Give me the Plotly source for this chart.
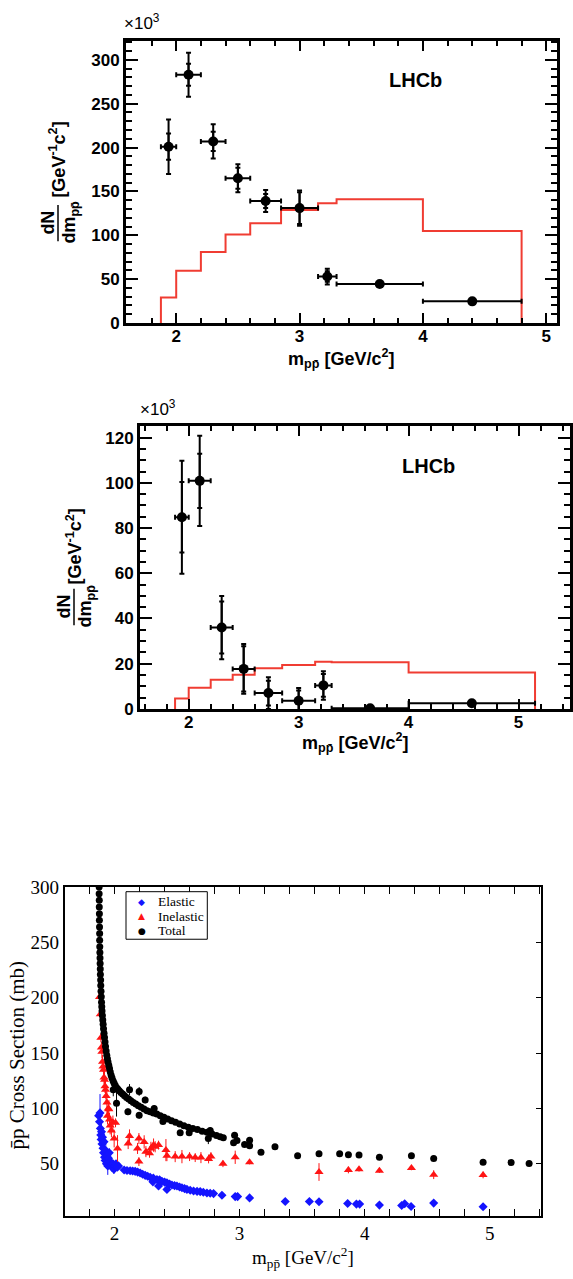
import plotly.graph_objects as go

W, H = 573, 1279
SANS = "Liberation Sans"
SERIF = "Liberation Serif"
PB = "p\u0304"  # p-bar
RED = "rgb(240,60,50)"

# ---------------- Panel A (top) : dN/dm, x10^3 ----------------
a_bin_lo = [1.876, 2.0, 2.2, 2.4, 2.6, 2.85, 3.15, 3.3, 4.0]
a_bin_hi = [2.0, 2.2, 2.4, 2.6, 2.85, 3.15, 3.3, 4.0, 4.8]
a_val = [201, 283, 207, 165, 139, 131, 53, 44.5, 24.7]
a_stat = [15, 12.5, 11, 12, 8, 18, 6, 1, 1]
a_tot = [31, 25, 19.5, 16, 12.5, 20, 9, 1.5, 1.5]
a_mc = [29, 59.5, 81, 101, 113.7, 128.7, 136.6, 141, 105]

# ---------------- Panel B (middle) ----------------
b_bin_lo = [1.876, 2.0, 2.2, 2.4, 2.6, 2.85, 3.15, 3.3, 4.0]
b_bin_hi = [2.0, 2.2, 2.4, 2.6, 2.85, 3.15, 3.3, 4.0, 5.15]
b_val = [84.8, 100.9, 36, 17.7, 7, 3.6, 10.4, 0.3, 2.5]
b_stat = [15.6, 12, 11.5, 10, 5.5, 4.5, 5, 0.5, 0.5]
b_tot = [25, 20, 14, 11, 7, 5.7, 6.3, 0.5, 1]
b_mc = [4.6, 9.4, 12.9, 15.1, 18, 19.4, 20.9, 20.6, 16.1]

# ---------------- Panel C (bottom) : pbar-p cross sections ----------------
tot_x = [1.877, 1.877, 1.878, 1.878, 1.879, 1.879, 1.880, 1.881, 1.881, 1.882, 1.883, 1.884,
         1.885, 1.886, 1.887, 1.889, 1.890, 1.892, 1.894, 1.896, 1.898, 1.900, 1.903, 1.906,
         1.909, 1.912, 1.916, 1.920, 1.924, 1.928, 1.933, 1.938, 1.943, 1.948, 1.954, 1.960,
         1.966, 1.973, 1.980, 1.988, 1.996, 2.005, 2.015, 2.026, 2.038, 2.051, 2.065, 2.080,
         2.096, 2.113, 2.131, 2.150, 2.170, 2.191, 2.213, 2.236, 2.260, 2.285, 2.311, 2.338,
         2.366, 2.395, 2.425, 2.456, 2.488, 2.521, 2.555, 2.590, 2.626, 2.663, 2.701, 2.740,
         2.780, 2.815, 2.845, 2.870,
         1.990, 2.016, 2.120, 2.107, 2.197, 2.197, 2.245, 2.317, 2.387, 2.525, 2.597, 2.765,
         2.750, 2.952, 2.960, 2.979, 3.040, 3.080, 3.080, 3.171, 3.283, 3.464, 3.635, 3.800,
         3.870, 3.955, 4.118, 4.374, 4.552, 4.947, 5.171, 5.315]
tot_y = [300, 294, 288, 282, 276, 270, 264, 258, 252, 246, 241, 236,
         231, 226, 221, 216, 211, 206, 201, 196, 192, 188, 184, 180,
         176, 172, 168, 164, 160, 156, 152, 148, 145, 142, 139, 136,
         133, 130, 127.5, 125, 123, 121, 119, 117.5, 116, 114.5, 113, 111.5,
         110, 108.5, 107, 105.5, 104, 102.5, 101, 99.5, 98, 97, 96, 95,
         93.5, 92, 90.5, 89, 87.5, 86, 84.5, 83, 82, 81, 79.5, 78.5,
         77, 75.5, 74.5, 73.5,
         117, 104.7, 117, 97, 115.4, 93.8, 107.7, 100, 88.2, 78.1, 78.1, 80.2,
         72.8, 69, 75.7, 71, 67.5, 71.3, 66.3, 60.4, 65.4, 57.4, 59.2, 59.2,
         58.3, 58, 55.9, 57.4, 54.7, 51.5, 51.2, 50.3]
tot_err = [1, 1, 1, 1, 1, 1, 1, 1, 1, 1, 1, 1,
           1, 1, 1, 1, 1, 1, 1, 1, 1, 1, 1, 1,
           1, 1, 1, 1, 1, 1, 1, 1, 1, 1, 1, 1,
           1, 1, 1, 1, 1, 2, 2, 2, 2, 2, 2, 2,
           2, 2, 2, 2, 2, 2, 2, 2, 2, 2, 2, 2,
           2, 2, 2, 2, 2, 2, 2, 2, 2, 2, 2, 2,
           2, 2, 2, 2,
           6, 12, 5, 3, 4, 3, 3, 3, 2, 2, 2, 3,
           5, 2, 2, 2, 2, 2, 2, 2, 2, 1, 1, 1,
           1, 1, 1, 1, 1, 1, 1, 1]

ela_x = [1.873, 1.880, 1.884, 1.887, 1.890, 1.893, 1.896, 1.900, 1.904, 1.908, 1.912, 1.916,
         1.920, 1.925, 1.930, 1.935, 1.940, 1.946, 1.952, 1.958, 1.965, 1.972, 1.980, 1.988,
         1.995, 2.003, 2.012, 2.022, 2.032, 2.077, 2.100, 2.125, 2.145, 2.165, 2.185, 2.205,
         2.225, 2.245, 2.265, 2.285, 2.307, 2.310, 2.339, 2.352, 2.360, 2.379, 2.400, 2.419,
         2.419, 2.440, 2.459, 2.480, 2.499, 2.520, 2.539, 2.560, 2.579, 2.605, 2.632, 2.660,
         2.685, 2.710, 2.739, 2.765, 2.792, 2.859, 2.965, 2.984, 3.080, 3.365, 3.558, 3.635,
         3.864, 3.934, 3.960, 4.118, 4.296, 4.320, 4.371, 4.552, 4.947]
ela_y = [93.5, 88, 96, 82, 76, 72, 79, 68, 74, 64, 60, 70,
         56, 53, 62, 50, 57, 48, 55, 60, 52, 49, 47, 50,
         45, 48, 50, 47, 48, 44.4, 44, 43.8, 43.5, 43.2, 42.5, 41.7,
         40.6, 39.6, 38.8, 37.9, 33.7, 37.2, 35.8, 29.9, 35.5, 34.3, 33.5, 32.8,
         26.9, 31.8, 30.8, 30.3, 29.9, 29.1, 28.4, 27.6, 26.9, 26.1, 25.4, 25.1,
         24.9, 24.3, 23.7, 23.4, 23.1, 21.6, 20.4, 20.4, 19.2, 16, 16, 15.7,
         14.2, 13.6, 13.6, 12.7, 12.4, 13.9, 11.5, 14.5, 11.2]
ela_err = [3, 4, 17, 6, 5, 4, 8, 5, 6, 4, 5, 8,
           4, 5, 10, 4, 6, 8, 5, 4, 3, 3, 4, 3,
           4, 3, 3, 3, 3, 1, 1, 1, 1, 1, 1, 1,
           1, 1, 1, 1, 1, 1, 1, 1, 1, 1, 1, 1,
           1, 1, 1, 1, 1, 1, 1, 1, 1, 1, 1, 1,
           1, 1, 1, 1, 1, 1, 1, 1, 1, 1, 1, 1,
           1, 1, 1, 1, 1, 1, 1, 3, 1]

inel_x = [1.880, 1.886, 1.891, 1.895, 1.899, 1.904, 1.908, 1.912, 1.916, 1.920, 1.924, 1.928,
          1.933, 1.939, 1.944, 1.950, 1.955, 1.960, 1.965, 1.975, 1.987, 1.997, 2.008, 2.024,
          2.109, 2.120, 2.184, 2.195, 2.195, 2.237, 2.251, 2.280, 2.291, 2.312, 2.325, 2.352,
          2.411, 2.419, 2.485, 2.539, 2.600, 2.645, 2.691, 2.752, 2.771, 2.867, 2.965, 3.080,
          3.635, 3.870, 3.955, 4.118, 4.374, 4.552, 4.947]
inel_y = [200.6, 185, 163.9, 155, 151.2, 142.3, 138, 134.9, 128, 126, 120, 117,
          111.2, 105.3, 93.5, 100, 99.4, 90, 84.6, 80, 87.6, 72.8, 87, 63.9,
          68.3, 75.1, 63.9, 72.8, 52, 69.8, 61, 59.5, 63.9, 66.9, 65.4, 66.9,
          62.4, 57.4, 56.5, 56.5, 56.5, 55.6, 55.6, 54.4, 56.5, 50, 55.9, 51.5,
          42.6, 44.4, 45, 43.8, 46.2, 40.2, 39.9]
inel_err = [2, 4, 4, 5, 6, 6, 5, 8, 6, 8, 6, 8,
            6, 10, 8, 6, 8, 6, 8, 6, 6, 8, 4, 12,
            5, 6, 5, 5, 4, 6, 5, 4, 6, 6, 5, 4,
            10, 5, 5, 6, 4, 4, 5, 4, 4, 3, 6, 2,
            8, 3, 2, 2, 2, 4, 3]

x_ticks_lhcb = [2, 3, 4, 5]
y_ticks_a = [0, 50, 100, 150, 200, 250, 300]
y_ticks_b = [0, 20, 40, 60, 80, 100, 120]
x_ticks_c = [2, 3, 4, 5]
y_ticks_c = [50, 100, 150, 200, 250, 300]


def PX(px):
    return px / W


def PY(py):
    return 1 - py / H


fig = go.Figure()


def lhcb_traces(lo, hi, val, stat, tot, mc, xa, ya):
    xc = [(l + h) / 2 for l, h in zip(lo, hi)]
    xe = [(h - l) / 2 for l, h in zip(lo, hi)]
    hx = [lo[0], lo[0]] + lo[1:] + [hi[-1], hi[-1]]
    hy = [0] + mc + [mc[-1], 0]
    fig.add_trace(go.Scatter(x=hx, y=hy, mode="lines", line=dict(color=RED, width=2, shape="hv"),
                             xaxis=xa, yaxis=ya, showlegend=False, hoverinfo="skip"))
    fig.add_trace(go.Scatter(x=xc, y=val, mode="markers",
                             marker=dict(size=1, color="rgba(0,0,0,0)"),
                             error_y=dict(type="data", array=tot, color="black", thickness=2, width=2.5),
                             xaxis=xa, yaxis=ya, showlegend=False))
    fig.add_trace(go.Scatter(x=xc, y=val, mode="markers",
                             marker=dict(size=10, color="black"),
                             error_y=dict(type="data", array=stat, color="black", thickness=2, width=2.5),
                             error_x=dict(type="data", array=xe, color="black", thickness=2, width=2.5),
                             xaxis=xa, yaxis=ya, showlegend=False))


lhcb_traces(a_bin_lo, a_bin_hi, a_val, a_stat, a_tot, a_mc, "x", "y")
lhcb_traces(b_bin_lo, b_bin_hi, b_val, b_stat, b_tot, b_mc, "x2", "y2")

fig.add_trace(go.Scatter(x=ela_x, y=ela_y, mode="markers", name="Elastic",
                         marker=dict(symbol="diamond", size=7, color="rgb(20,20,255)"),
                         error_y=dict(type="data", array=ela_err, color="rgb(20,20,255)", thickness=1, width=0),
                         xaxis="x3", yaxis="y3", showlegend=False))
fig.add_trace(go.Scatter(x=inel_x, y=inel_y, mode="markers", name="Inelastic",
                         marker=dict(symbol="triangle-up", size=8, color="rgb(255,20,20)"),
                         error_y=dict(type="data", array=inel_err, color="rgb(255,20,20)", thickness=1, width=0),
                         xaxis="x3", yaxis="y3", showlegend=False))
fig.add_trace(go.Scatter(x=tot_x, y=tot_y, mode="markers", name="Total",
                         marker=dict(symbol="circle", size=7, color="black"),
                         error_y=dict(type="data", array=tot_err, color="black", thickness=1, width=0),
                         xaxis="x3", yaxis="y4", showlegend=False))

sans_tick = dict(family=SANS, size=17, color="black")
serif_tick = dict(family=SERIF, size=19, color="black")


def btext(vals):
    return ["<b>%g</b>" % v for v in vals]


def root_axis(domain, rng, tickvals, ticklen, minor_dtick, minor_len, anchor):
    return dict(domain=domain, range=rng, anchor=anchor, tickmode="array", tickvals=tickvals,
                ticktext=btext(tickvals),
                ticks="inside", ticklen=ticklen, tickwidth=2, tickcolor="black",
                showline=True, linewidth=3, linecolor="black", mirror="allticks",
                showgrid=False, zeroline=False, tickfont=sans_tick,
                minor=dict(dtick=minor_dtick, tick0=0, ticks="inside", ticklen=minor_len,
                           tickwidth=2, tickcolor="black", showgrid=False))


fig.update_layout(
    width=W, height=H, margin=dict(l=0, r=0, t=0, b=0),
    paper_bgcolor="white", plot_bgcolor="white", showlegend=False,
    xaxis=root_axis([PX(126), PX(557)], [1.593, 5.087], x_ticks_lhcb, 10, 0.2, 5, "y"),
    yaxis=root_axis([PY(318), PY(31)], [0, 322], y_ticks_a, 12, 10, 6, "x"),
    xaxis2=root_axis([PX(140), PX(570)], [1.557, 5.468], x_ticks_lhcb, 10, 0.2, 5, "y2"),
    yaxis2=root_axis([PY(710), PY(423)], [0, 125], y_ticks_b, 12, 5, 6, "x2"),
    xaxis3=dict(domain=[PX(64.5), PX(541)], range=[1.6, 5.41], anchor="y3", tickmode="array",
                tickvals=x_ticks_c, ticks="inside", ticklen=7, tickwidth=1, tickcolor="black",
                showline=True, linewidth=1.5, linecolor="black", mirror="allticks",
                showgrid=False, zeroline=False, tickfont=serif_tick,
                minor=dict(dtick=0.2, tick0=0, ticks="inside", ticklen=4, tickwidth=1,
                           tickcolor="black", showgrid=False)),
    yaxis3=dict(domain=[PY(1225), PY(891)], range=[3, 300], anchor="x3", tickmode="array",
                tickvals=y_ticks_c, ticks="", showline=True, linewidth=1.5, linecolor="black",
                mirror=True, showgrid=False, zeroline=False, tickfont=serif_tick),
    yaxis4=dict(overlaying="y3", side="right", anchor="x3", range=[3, 300], tickmode="array",
                tickvals=y_ticks_c, ticks="inside", ticklen=5, tickwidth=1, tickcolor="black",
                showticklabels=False, showline=False, showgrid=False, zeroline=False),
)

try:
    fig.update_layout(xaxis_ticklabelstandoff=-4, xaxis2_ticklabelstandoff=-4)
except Exception:
    pass

ann = []
shapes = []


def add_text(text, px, py, font, xanchor="center", yanchor="middle", angle=0):
    ann.append(dict(text=text, x=PX(px), y=PY(py), xref="paper", yref="paper",
                    xanchor=xanchor, yanchor=yanchor, showarrow=False, font=font, textangle=angle))


t_bold = dict(family=SANS, size=18, color="black")
xtitle = "<b>m<sub>p" + PB + "</sub> [GeV/c<sup>2</sup>]</b>"
ytitle_unit = "<b>[GeV<sup>-1</sup>c<sup>2</sup>]</b>"
ytitle_num = "<b>dN</b>"
ytitle_den = "<b>dm<sub>p" + PB + "</sub></b>"
x1000 = "\u00d710<sup>3</sup>"

# Panel A decorations
add_text(x1000, 122, 25, dict(family=SANS, size=17, color="black"), "left", "bottom")
add_text("<b>LHCb</b>", 415, 71, dict(family=SANS, size=20, color="black"))
add_text(xtitle, 341, 354, t_bold)
add_text(ytitle_unit, 58, 152, t_bold, angle=-90)
add_text(ytitle_num, 48, 216, t_bold, angle=-90)
add_text(ytitle_den, 71, 216, t_bold, angle=-90)
shapes.append(dict(type="line", xref="paper", yref="paper", x0=PX(58), x1=PX(58),
                   y0=PY(198), y1=PY(235), line=dict(color="black", width=1.5)))

# Panel B decorations
add_text(x1000, 138, 418, dict(family=SANS, size=17, color="black"), "left", "bottom")
add_text("<b>LHCb</b>", 428, 463, dict(family=SANS, size=20, color="black"))
add_text(xtitle, 355, 744, t_bold)
add_text(ytitle_unit, 74, 545, t_bold, angle=-90)
add_text(ytitle_num, 64, 606, t_bold, angle=-90)
add_text(ytitle_den, 87, 606, t_bold, angle=-90)
shapes.append(dict(type="line", xref="paper", yref="paper", x0=PX(74), x1=PX(74),
                   y0=PY(588), y1=PY(625), line=dict(color="black", width=1.5)))

# Panel C decorations
add_text("m<sub>p" + PB + "</sub> [GeV/c<sup>2</sup>]", 303, 1267, dict(family=SERIF, size=19, color="black"))
add_text(PB + "p Cross Section (mb)", 17, 1062, dict(family=SERIF, size=21, color="black"), angle=-90)
shapes.append(dict(type="rect", xref="paper", yref="paper", x0=PX(126), x1=PX(207.3),
                   y0=PY(944), y1=PY(895.7), line=dict(color="black", width=1), fillcolor="white"))
leg_font = dict(family=SERIF, size=13.5, color="black")
add_text("\u25c6", 141.7, 906, dict(family="DejaVu Sans", size=9, color="rgb(20,20,255)"))
add_text("\u25b2", 141.7, 920.7, dict(family="DejaVu Sans", size=9, color="rgb(255,20,20)"))
add_text("\u25cf", 141.7, 935.3, dict(family="DejaVu Sans", size=9, color="black"))
add_text("Elastic", 156, 906, leg_font, "left")
add_text("Inelastic", 156, 920.7, leg_font, "left")
add_text("Total", 156, 935.3, leg_font, "left")

fig.update_layout(annotations=ann, shapes=shapes)
fig.write_html("out.html")
